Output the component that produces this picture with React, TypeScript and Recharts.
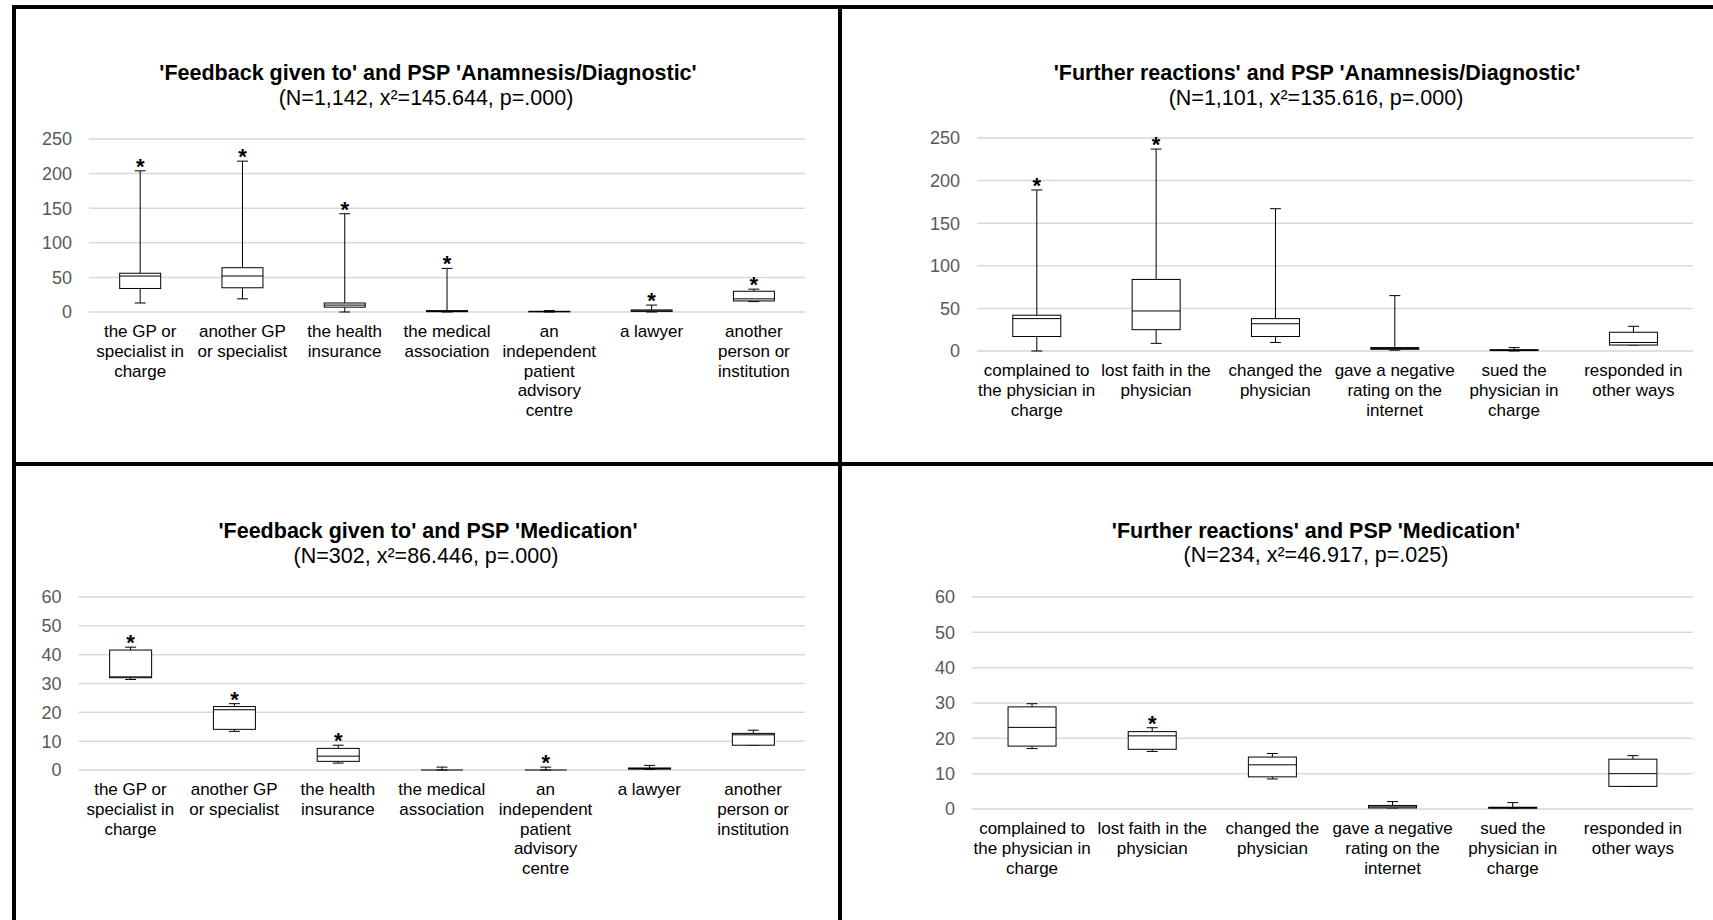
import React from "react";
import { ComposedChart, Bar, XAxis, YAxis, CartesianGrid } from "recharts";

const FONT = '"Liberation Sans", Arial, Helvetica, sans-serif';

// ---------- categories (tick labels, "\n" = line break) ----------
const feedbackCategories = [
  "the GP or\nspecialist in\ncharge",
  "another GP\nor specialist",
  "the health\ninsurance",
  "the medical\nassociation",
  "an\nindependent\npatient\nadvisory\ncentre",
  "a lawyer",
  "another\nperson or\ninstitution",
];
const reactionCategories = [
  "complained to\nthe physician in\ncharge",
  "lost faith in the\nphysician",
  "changed the\nphysician",
  "gave a negative\nrating on the\ninternet",
  "sued the\nphysician in\ncharge",
  "responded in\nother ways",
];

// ---------- axis ticks ----------
const majorTicks250 = [0, 50, 100, 150, 200, 250];
const minorTicks250 = [0, 10, 20, 30, 40, 50, 60, 70, 80, 90, 100, 110, 120, 130, 140, 150, 160, 170, 180, 190, 200, 210, 220, 230, 240, 250];
const majorTicks60 = [0, 10, 20, 30, 40, 50, 60];
const minorTicks60 = [0, 2, 4, 6, 8, 10, 12, 14, 16, 18, 20, 22, 24, 26, 28, 30, 32, 34, 36, 38, 40, 42, 44, 46, 48, 50, 52, 54, 56, 58, 60];

// ---------- 'Feedback given to' x 'Anamnesis/Diagnostic' ----------
const fbAnaMin = [13, 19, 0, 0, 0, 0, 15];
const fbAnaQ1 = [34, 35, 7, 0.5, 0.3, 1, 16];
const fbAnaMedian = [52, 52, 10, 1, 0.6, 1.5, 19];
const fbAnaQ3 = [56, 64, 13, 2, 1, 3, 30];
const fbAnaMax = [204, 218, 142, 63, 2, 10, 33];
const fbAnaStar = [true, true, true, true, false, true, true];

// ---------- 'Further reactions' x 'Anamnesis/Diagnostic' ----------
const frAnaMin = [0, 9, 10, 1, 0, 7];
const frAnaQ1 = [17, 25, 17, 2, 0.5, 7];
const frAnaMedian = [38, 47, 32, 3, 1, 10];
const frAnaQ3 = [42, 84, 38, 4, 1.5, 22];
const frAnaMax = [189, 237, 167, 65, 4, 29];
const frAnaStar = [true, true, false, false, false, false];

// ---------- 'Feedback given to' x 'Medication' ----------
const fbMedMin = [31.4, 13.4, 2.4, 0, 0, 0.2, 8.6];
const fbMedQ1 = [32, 14.1, 3, 0, 0, 0.3, 8.6];
const fbMedMedian = [32.3, 20.9, 4.8, 0, 0, 0.5, 12.2];
const fbMedQ3 = [41.6, 22, 7.5, 0, 0, 0.7, 12.7];
const fbMedMax = [42.6, 23, 8.6, 1, 1, 1.6, 13.8];
const fbMedStar = [true, true, true, false, true, false, false];

// ---------- 'Further reactions' x 'Medication' ----------
const frMedMin = [17.1, 16.3, 8.5, 0.3, 0.2, 6.4];
const frMedQ1 = [17.8, 16.9, 9.1, 0.3, 0.2, 6.4];
const frMedMedian = [23.1, 20.7, 12.5, 0.6, 0.4, 10];
const frMedQ3 = [28.9, 21.9, 14.7, 1, 0.5, 14.1];
const frMedMax = [29.8, 23, 15.7, 2.1, 1.8, 15.1];
const frMedStar = [false, true, false, false, false, false];

function buildRows(
  cats: string[],
  min: number[],
  q1: number[],
  median: number[],
  q3: number[],
  max: number[],
  star: boolean[]
) {
  return cats.map((label, i) => ({
    label,
    min: min[i],
    q1: q1[i],
    median: median[i],
    q3: q3[i],
    max: max[i],
    star: star[i],
    range: [min[i], max[i]],
  }));
}

const BoxShape = (props: any) => {
  const { x, y, width, height, payload } = props;
  if (x == null || y == null || !payload) return null;
  const top = Math.min(y, y + height);
  const bottom = Math.max(y, y + height);
  const { min, q1, median, q3, max, star } = payload;
  const span = max - min;
  const py = (v: number) => (span === 0 ? bottom : bottom - ((v - min) / span) * (bottom - top));
  const cx = x + width / 2;
  const capHalf = 5.5;
  const yMax = py(max);
  const yMin = py(min);
  const yQ3 = py(q3);
  const yQ1 = py(q1);
  const yMed = py(median);
  const stroke = "#000";
  return (
    <g>
      <line x1={cx} x2={cx} y1={yMax} y2={yQ3} stroke={stroke} strokeWidth={1} />
      <line x1={cx} x2={cx} y1={yQ1} y2={yMin} stroke={stroke} strokeWidth={1} />
      <line x1={cx - capHalf} x2={cx + capHalf} y1={yMax} y2={yMax} stroke={stroke} strokeWidth={1} />
      <line x1={cx - capHalf} x2={cx + capHalf} y1={yMin} y2={yMin} stroke={stroke} strokeWidth={1} />
      <rect x={x} y={yQ3} width={width} height={Math.max(0, yQ1 - yQ3)} fill="#fff" stroke={stroke} strokeWidth={1} />
      <line x1={x} x2={x + width} y1={yMed} y2={yMed} stroke={stroke} strokeWidth={1} />
      {star ? (
        <text x={cx} y={yMax + 3} textAnchor="middle" fontSize={22} fontWeight="bold" fill="#000" fontFamily={FONT}>
          *
        </text>
      ) : null}
    </g>
  );
};

const XTick = (props: any) => {
  const { x, y, payload } = props;
  const lines = String(payload.value).split("\n");
  return (
    <text x={x} y={y} textAnchor="middle" fontSize={17} fill="#000" fontFamily={FONT}>
      {lines.map((l, i) => (
        <tspan key={i} x={x} dy={i === 0 ? 25 : 19.8}>
          {l}
        </tspan>
      ))}
    </text>
  );
};

type PanelProps = {
  left: number;
  top: number;
  width: number;
  height: number;
  marginTop: number;
  marginRight: number;
  yWidth: number;
  xHeight: number;
  rows: any[];
  domain: [number, number];
  majorTicks: number[];
  minorTicks: number[];
};

function BoxPanel(p: PanelProps) {
  return (
    <div style={{ position: "absolute", left: p.left, top: p.top, width: p.width, height: p.height }}>
      <ComposedChart
        width={p.width}
        height={p.height}
        data={p.rows}
        margin={{ top: p.marginTop, right: p.marginRight, bottom: 0, left: 0 }}
        barCategoryGap="30%"
      >
        <YAxis
          yAxisId="minor"
          orientation="right"
          width={0}
          type="number"
          domain={p.domain}
          ticks={p.minorTicks}
          tick={false}
          axisLine={false}
          tickLine={false}
        />
        <CartesianGrid yAxisId="minor" vertical={false} stroke="#efefef" strokeWidth={1} />
        <CartesianGrid vertical={false} stroke="#d9d9d9" strokeWidth={1.5} />
        <XAxis
          dataKey="label"
          interval={0}
          tickLine={false}
          axisLine={false}
          tickSize={0}
          tickMargin={0}
          height={p.xHeight}
          tick={<XTick />}
        />
        <YAxis
          width={p.yWidth}
          type="number"
          domain={p.domain}
          ticks={p.majorTicks}
          tickLine={false}
          axisLine={false}
          tickSize={0}
          tickMargin={17}
          tick={{ fill: "#595959", fontSize: 18, fontFamily: FONT }}
        />
        <Bar dataKey="range" shape={(s: any) => <BoxShape {...s} />} isAnimationActive={false} fill="#fff" />
      </ComposedChart>
    </div>
  );
}

const titles = [
  { x: 428, y: 80, sx: 426, sy: 104.5, t: "'Feedback given to' and PSP 'Anamnesis/Diagnostic'", s: "(N=1,142, x²=145.644, p=.000)" },
  { x: 1317, y: 80, sx: 1316, sy: 104.5, t: "'Further reactions' and PSP 'Anamnesis/Diagnostic'", s: "(N=1,101, x²=135.616, p=.000)" },
  { x: 428, y: 537.5, sx: 426, sy: 562.5, t: "'Feedback given to' and PSP 'Medication'", s: "(N=302, x²=86.446, p=.000)" },
  { x: 1316, y: 537.5, sx: 1316, sy: 561.5, t: "'Further reactions' and PSP 'Medication'", s: "(N=234, x²=46.917, p=.025)" },
];

export default function App() {
  const fbAna = buildRows(feedbackCategories, fbAnaMin, fbAnaQ1, fbAnaMedian, fbAnaQ3, fbAnaMax, fbAnaStar);
  const frAna = buildRows(reactionCategories, frAnaMin, frAnaQ1, frAnaMedian, frAnaQ3, frAnaMax, frAnaStar);
  const fbMed = buildRows(feedbackCategories, fbMedMin, fbMedQ1, fbMedMedian, fbMedQ3, fbMedMax, fbMedStar);
  const frMed = buildRows(reactionCategories, frMedMin, frMedQ1, frMedMedian, frMedQ3, frMedMax, frMedStar);

  return (
    <div
      style={{
        position: "absolute",
        left: 0,
        top: 0,
        width: 1713,
        height: 920,
        background: "#fff",
        overflow: "hidden",
        fontFamily: FONT,
      }}
    >
      <BoxPanel left={16} top={9} width={822} height={453} marginTop={130} marginRight={33} yWidth={73} xHeight={150}
        rows={fbAna} domain={[0, 250]} majorTicks={majorTicks250} minorTicks={minorTicks250} />
      <BoxPanel left={842} top={9} width={871} height={453} marginTop={129} marginRight={20} yWidth={135} xHeight={111}
        rows={frAna} domain={[0, 250]} majorTicks={majorTicks250} minorTicks={minorTicks250} />
      <BoxPanel left={16} top={466} width={822} height={454} marginTop={131} marginRight={33} yWidth={62.5} xHeight={150}
        rows={fbMed} domain={[0, 60]} majorTicks={majorTicks60} minorTicks={minorTicks60} />
      <BoxPanel left={842} top={466} width={871} height={454} marginTop={131} marginRight={20} yWidth={130} xHeight={111}
        rows={frMed} domain={[0, 60]} majorTicks={majorTicks60} minorTicks={minorTicks60} />

      <svg width={1713} height={920} style={{ position: "absolute", left: 0, top: 0, pointerEvents: "none" }}>
        {titles.map((t, i) => (
          <g key={i} fontFamily={FONT} fill="#000">
            <text x={t.x} y={t.y} textAnchor="middle" fontSize={21.5} fontWeight="bold">
              {t.t}
            </text>
            <text x={t.sx} y={t.sy} textAnchor="middle" fontSize={21.5}>
              {t.s}
            </text>
          </g>
        ))}
      </svg>

      {/* table borders */}
      <div style={{ position: "absolute", left: 12, top: 5, width: 1701, height: 4, background: "#000" }} />
      <div style={{ position: "absolute", left: 12, top: 462, width: 1701, height: 4, background: "#000" }} />
      <div style={{ position: "absolute", left: 12, top: 5, width: 4, height: 915, background: "#000" }} />
      <div style={{ position: "absolute", left: 838, top: 5, width: 4, height: 915, background: "#000" }} />
    </div>
  );
}
